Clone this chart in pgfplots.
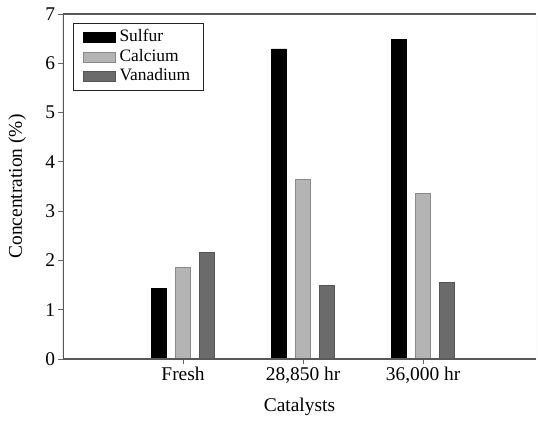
\documentclass[border=0pt]{standalone}
\usepackage{fontspec}
\setmainfont{Liberation Serif}
\usepackage{pgfplots}
\pgfplotsset{compat=1.18}
\definecolor{calc}{HTML}{B4B4B4}
\definecolor{calcb}{HTML}{8A8A8A}
\definecolor{vana}{HTML}{6B6B6B}
\definecolor{vanab}{HTML}{555555}
\begin{document}
\begin{tikzpicture}
\begin{axis}[
  scale only axis,
  width=473bp, height=345bp,
  xmin=0, xmax=3.94,
  ymin=0, ymax=7,
  ytick={0,1,...,7},
  xtick={1,2,3},
  xticklabels={Fresh,{28,850 hr},{36,000 hr}},
  /pgf/number format/assume math mode=true,
  ticklabel style={font=\fontsize{19.5}{22}\selectfont},
  tick align=outside,
  xtick pos=bottom, ytick pos=left,
  major tick length=4.5bp,
  tick style={draw=black!60, line width=0.8bp},
  axis line style={draw=none},
  ylabel={Concentration (\%)},
  xlabel={Catalysts},
  label style={font=\fontsize{19.5}{22}\selectfont},
  ylabel style={at={(axis description cs:-0.097,0.5)}, anchor=center},
  xlabel style={at={(axis description cs:0.5,-0.139)}, anchor=center},
  ybar, bar width=0.125,
  legend style={at={(axis description cs:0,1)}, anchor=north west,
    xshift=10bp, yshift=-9bp, draw=black!85, line width=0.7bp,
    font=\fontsize{17.5}{19}\selectfont, inner xsep=10bp, inner ysep=4.5bp,
    nodes={inner xsep=3.5bp, inner ysep=2bp, text height=12bp, text depth=3.5bp}},
  legend cell align=left,
  legend image code/.code={\draw[#1] (0bp,-5bp) rectangle (32bp,5bp);},
]
\addplot[fill=black, draw=black, bar shift=-0.2] coordinates {(1,1.44) (2,6.29) (3,6.48)};
\addplot[fill=calc, draw=calcb, bar shift=0] coordinates {(1,1.86) (2,3.64) (3,3.36)};
\addplot[fill=vana, draw=vanab, bar shift=0.2] coordinates {(1,2.17) (2,1.49) (3,1.55)};
\legend{Sulfur, Calcium, Vanadium}
\draw[black!65, line width=1.2bp] (rel axis cs:1,0) -- (rel axis cs:0,0) -- (rel axis cs:0,1) -- (rel axis cs:1,1);
\draw[black!15, line width=0.8bp] (rel axis cs:1,0) -- (rel axis cs:1,1);
\coordinate (SW) at (rel axis cs:0,0);
\coordinate (NE) at (rel axis cs:1,1);
\end{axis}
\pgfresetboundingbox
\path[use as bounding box] ([shift={(-63bp,-64bp)}]SW) rectangle ([shift={(2bp,14bp)}]NE);
\end{tikzpicture}
\end{document}
